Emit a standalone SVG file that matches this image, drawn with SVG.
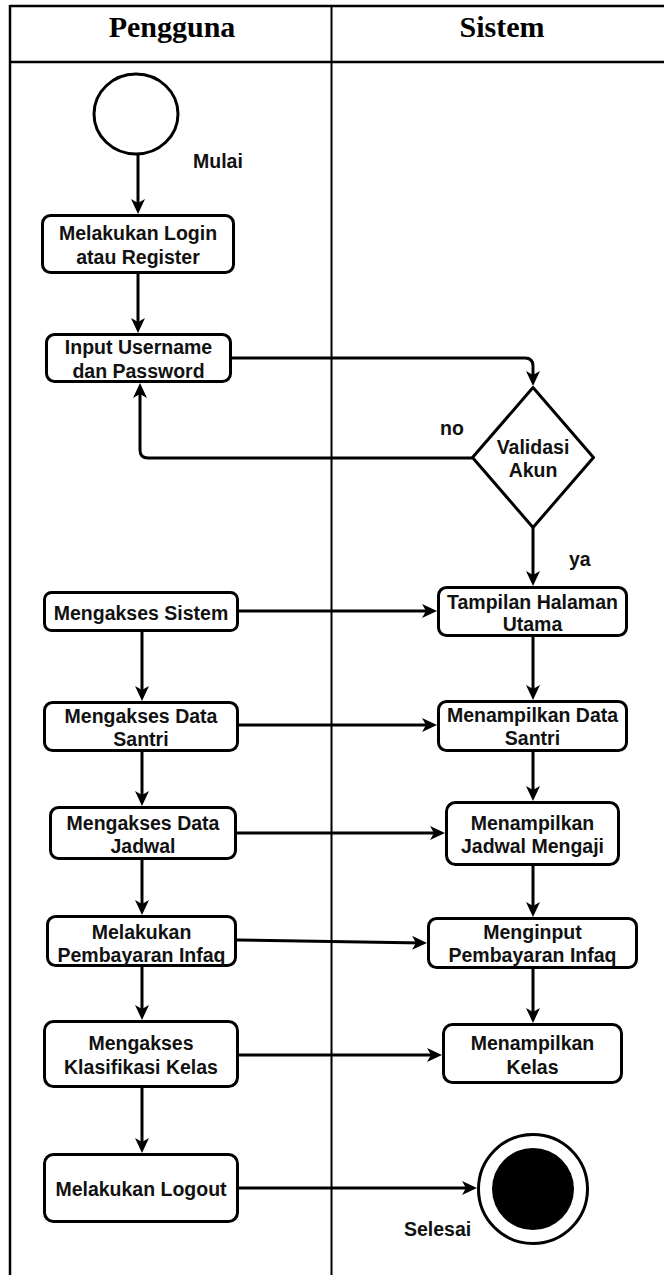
<svg xmlns="http://www.w3.org/2000/svg" width="664" height="1275" viewBox="0 0 664 1275">
<style>
.lane{stroke:#000;stroke-width:2.5;fill:none}
.box{fill:#fff;stroke:#000;stroke-width:3}
.t{font-family:"Liberation Sans",Arial,sans-serif;font-weight:bold;font-size:19.5px;fill:#111;text-anchor:middle}
.l{font-family:"Liberation Sans",Arial,sans-serif;font-weight:bold;font-size:19.5px;fill:#111}
.h{font-family:"Liberation Serif","Times New Roman",serif;font-weight:bold;font-size:30px;fill:#000;text-anchor:middle}
.c{stroke:#000;stroke-width:3;fill:none;marker-end:url(#arr)}
</style>
<defs>
<marker id="arr" markerUnits="userSpaceOnUse" markerWidth="16" markerHeight="16" refX="11" refY="7" orient="auto">
<path d="M0,0 L15,7 L0,14 L4,7 Z" fill="#000"/>
</marker>
</defs>
<g id="lanes">
<line class="lane" x1="10" y1="6" x2="664" y2="6"/>
<line class="lane" x1="10" y1="62" x2="664" y2="62"/>
<line class="lane" x1="10" y1="5" x2="10" y2="1275"/>
<line class="lane" x1="331.5" y1="6" x2="331.5" y2="1275" style="stroke-width:2"/>
<text class="h" x="172" y="37">Pengguna</text>
<text class="h" x="502" y="37">Sistem</text>
</g>
<g id="connectors">
<path class="c" d="M138,155 V210"/>
<path class="c" d="M138,274 V329"/>
<path class="c" d="M232,358 H525 Q533,358 533,366 V382"/>
<path class="c" d="M472,458 H148 Q140,458 140,450 V387"/>
<path class="c" d="M533,528 V582"/>
<path class="c" d="M533,637 V696"/>
<path class="c" d="M533,752 V797"/>
<path class="c" d="M533,866 V913"/>
<path class="c" d="M533,969 V1019"/>
<path class="c" d="M142,632 V697"/>
<path class="c" d="M142,752 V802"/>
<path class="c" d="M142,860 V911"/>
<path class="c" d="M142,967 V1016"/>
<path class="c" d="M142,1088 V1149"/>
<path class="c" d="M239,611 H433"/>
<path class="c" d="M239,725 H433"/>
<path class="c" d="M237,833 H441"/>
<path class="c" d="M237,940 L423,943"/>
<path class="c" d="M239,1055 H438"/>
<path class="c" d="M239,1188 H473"/>
<text class="l" x="440" y="435">no</text>
<text class="l" x="569" y="566">ya</text>
</g>
<g id="start">
<ellipse cx="136" cy="114" rx="42" ry="40" fill="#fff" stroke="#000" stroke-width="3"/>
<text class="l" x="193" y="168">Mulai</text>
</g>
<g id="login">
<rect class="box" x="42.5" y="215.5" width="191" height="57" rx="8"/>
<text class="t" x="138" y="240">Melakukan Login</text>
<text class="t" x="138" y="264">atau Register</text>
</g>
<g id="input">
<rect class="box" x="46.5" y="334.5" width="184" height="47" rx="8"/>
<text class="t" x="138.5" y="354">Input Username</text>
<text class="t" x="138.5" y="378">dan Password</text>
</g>
<g id="validasi">
<path class="box" d="M533,387.5 L593.5,457.5 L533,527.5 L472.5,457.5 Z" stroke-linejoin="round"/>
<text class="t" x="533" y="454">Validasi</text>
<text class="t" x="533" y="477">Akun</text>
</g>
<g id="akses-sistem">
<rect class="box" x="44.5" y="592.5" width="193" height="38" rx="7"/>
<text class="t" x="141" y="620">Mengakses Sistem</text>
</g>
<g id="akses-santri">
<rect class="box" x="44.5" y="702.5" width="193" height="48" rx="8"/>
<text class="t" x="141" y="723">Mengakses Data</text>
<text class="t" x="141" y="746">Santri</text>
</g>
<g id="akses-jadwal">
<rect class="box" x="50.5" y="807.5" width="185" height="51" rx="8"/>
<text class="t" x="143" y="830">Mengakses Data</text>
<text class="t" x="143" y="853">Jadwal</text>
</g>
<g id="bayar-infaq">
<rect class="box" x="47.5" y="916.5" width="188" height="49" rx="8"/>
<text class="t" x="141.5" y="939">Melakukan</text>
<text class="t" x="141.5" y="962">Pembayaran Infaq</text>
</g>
<g id="akses-kelas">
<rect class="box" x="44.5" y="1021.5" width="193" height="65" rx="9"/>
<text class="t" x="141" y="1050">Mengakses</text>
<text class="t" x="141" y="1074">Klasifikasi Kelas</text>
</g>
<g id="logout">
<rect class="box" x="44.5" y="1154.5" width="193" height="67" rx="9"/>
<text class="t" x="141" y="1196">Melakukan Logout</text>
</g>
<g id="halaman-utama">
<rect class="box" x="438.5" y="587.5" width="188" height="48" rx="8"/>
<text class="t" x="532.5" y="609">Tampilan Halaman</text>
<text class="t" x="532.5" y="631">Utama</text>
</g>
<g id="tampil-santri">
<rect class="box" x="438.5" y="701.5" width="188" height="49" rx="8"/>
<text class="t" x="532.5" y="722">Menampilkan Data</text>
<text class="t" x="532.5" y="745">Santri</text>
</g>
<g id="tampil-jadwal">
<rect class="box" x="446.5" y="802.5" width="172" height="62" rx="9"/>
<text class="t" x="532.5" y="830">Menampilkan</text>
<text class="t" x="532.5" y="853">Jadwal Mengaji</text>
</g>
<g id="input-infaq">
<rect class="box" x="428.5" y="918.5" width="208" height="49" rx="8"/>
<text class="t" x="532.5" y="939">Menginput</text>
<text class="t" x="532.5" y="962">Pembayaran Infaq</text>
</g>
<g id="tampil-kelas">
<rect class="box" x="443.5" y="1024.5" width="178" height="58" rx="9"/>
<text class="t" x="532.5" y="1050">Menampilkan</text>
<text class="t" x="532.5" y="1074">Kelas</text>
</g>
<g id="end">
<circle cx="533" cy="1189" r="54.5" fill="#fff" stroke="#000" stroke-width="3"/>
<circle cx="533" cy="1189" r="41" fill="#000"/>
<text class="l" x="404" y="1236">Selesai</text>
</g>
</svg>
